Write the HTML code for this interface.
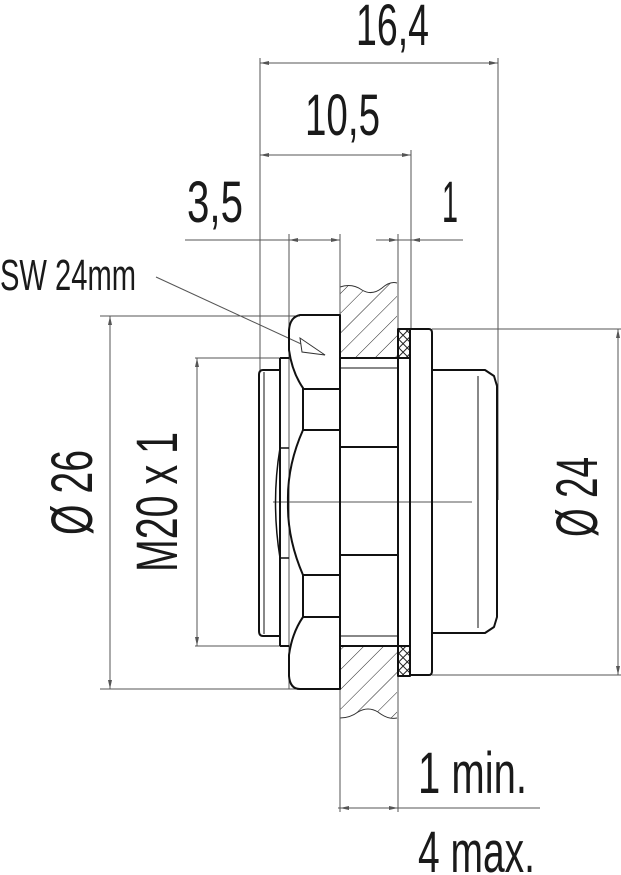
<!DOCTYPE html>
<html><head><meta charset="utf-8"><style>html,body{margin:0;padding:0;background:#fff}svg{display:block}</style></head>
<body>
<svg width="621" height="875" viewBox="0 0 621 875" xmlns="http://www.w3.org/2000/svg">
<defs>
<pattern id="h" width="14" height="14" patternUnits="userSpaceOnUse" patternTransform="rotate(45)">
<line x1="0" y1="0" x2="0" y2="14" stroke="#222" stroke-width="1"/>
</pattern>
<pattern id="x" width="6" height="6" patternUnits="userSpaceOnUse" patternTransform="rotate(45)">
<rect width="6" height="6" fill="none" stroke="#222" stroke-width="1"/>
</pattern>
</defs>
<g font-family="Liberation Sans, sans-serif" fill="#1a1a1a" font-size="58">
<text x="356" y="45" textLength="73" lengthAdjust="spacingAndGlyphs">16,4</text>
<text x="305" y="135" textLength="75" lengthAdjust="spacingAndGlyphs">10,5</text>
<text x="187" y="222" textLength="56" lengthAdjust="spacingAndGlyphs">3,5</text>
<text x="442" y="222" textLength="16" lengthAdjust="spacingAndGlyphs">1</text>
<text x="0" y="290" font-size="44" textLength="136" lengthAdjust="spacingAndGlyphs">SW 24mm</text>
<text x="418" y="793" textLength="109" lengthAdjust="spacingAndGlyphs">1 min.</text>
<text x="418" y="872" textLength="117" lengthAdjust="spacingAndGlyphs">4 max.</text>
<text transform="translate(92,535) rotate(-90)" textLength="85" lengthAdjust="spacingAndGlyphs">Ø 26</text>
<text transform="translate(177,572) rotate(-90)" textLength="140" lengthAdjust="spacingAndGlyphs">M20 x 1</text>
<text transform="translate(597,537) rotate(-90)" textLength="80" lengthAdjust="spacingAndGlyphs">Ø 24</text>
</g>
<!-- panel hatch -->
<path d="M340,287 Q352,283 362,290 Q372,296 382,288 Q390,281 397,283 L397,358 L340,358 Z" fill="url(#h)"/>
<path d="M340,646 L397,646 L397,718 Q388,720 378,712 Q368,706 358,712 Q350,718 340,718 Z" fill="url(#h)"/>
<path d="M340,287 Q352,283 362,290 Q372,296 382,288 Q390,281 397,283 M340,718 Q350,718 358,712 Q368,706 378,712 Q388,720 397,718" fill="none" stroke="#333" stroke-width="1"/>
<!-- thin dimension/extension lines -->
<g stroke="#555" stroke-width="1" fill="none">
<line x1="260" y1="58" x2="260" y2="370"/>
<line x1="498" y1="58" x2="498" y2="500"/>
<line x1="411" y1="150" x2="411" y2="329"/>
<line x1="289" y1="234" x2="289" y2="689"/>
<line x1="340" y1="234" x2="340" y2="812"/>
<line x1="398" y1="234" x2="398" y2="812"/>
<line x1="260" y1="63" x2="498" y2="63"/>
<line x1="260" y1="155" x2="411" y2="155"/>
<line x1="185" y1="240" x2="340" y2="240"/>
<line x1="376" y1="240" x2="463" y2="240"/>
<line x1="338" y1="808" x2="540" y2="808"/>
<line x1="100" y1="316" x2="300" y2="316"/>
<line x1="100" y1="689" x2="300" y2="689"/>
<line x1="110" y1="316" x2="110" y2="689"/>
<line x1="195" y1="358" x2="280" y2="358"/>
<line x1="195" y1="646" x2="280" y2="646"/>
<line x1="197" y1="358" x2="197" y2="646"/>
<line x1="432" y1="329" x2="622" y2="329"/>
<line x1="432" y1="675" x2="622" y2="675"/>
<line x1="618" y1="329" x2="618" y2="675"/>
<line x1="156" y1="277" x2="325" y2="355"/>
<line x1="273" y1="502" x2="472" y2="502"/>
</g>
<!-- arrowheads -->
<g fill="#555">
<path d="M260,63 l9,-2 v4z"/><path d="M498,63 l-9,-2 v4z"/>
<path d="M260,155 l9,-2 v4z"/><path d="M411,155 l-9,-2 v4z"/>
<path d="M289,240 l9,-2 v4z"/><path d="M340,240 l-9,-2 v4z"/>
<path d="M398,240 l-9,-2 v4z"/><path d="M411,240 l9,-2 v4z"/>
<path d="M340,808 l9,-2 v4z"/><path d="M398,808 l-9,-2 v4z"/>
<path d="M110,316 l-2,9 h4z"/><path d="M110,689 l-2,-9 h4z"/>
<path d="M197,358 l-2,9 h4z"/><path d="M197,646 l-2,-9 h4z"/>
<path d="M618,329 l-2,9 h4z"/><path d="M618,675 l-2,-9 h4z"/>
</g>
<path d="M325,355 L300,338 L302,352 Z" fill="#fff" stroke="#333" stroke-width="1"/>
<!-- part outline -->
<g stroke="#111" stroke-width="2" fill="none" stroke-linejoin="round">
<!-- thread -->
<path d="M280,370 L263,370 Q259,370 259,375 L259,631 Q259,636 263,636 L280,636"/>
<line x1="264" y1="372" x2="264" y2="634" stroke-width="1"/>
<path d="M280,358 L280,646 M280,358 L289,358 M280,646 L289,646"/>
<path d="M289,448 L280,448 Q271,502 280,558 L289,558" stroke-width="1.5"/>
<!-- nut -->
<path d="M340,315 L300,315 Q290,317 289,330 L289,350 Q292,372 303,388 L303,430 Q287,466 288,502 Q287,538 303,575 L303,617 Q292,633 289,655 L289,676 Q290,689 300,689 L340,689 Z"/>
<path d="M303,389 H340 M303,430 H340 M303,575 H340 M303,617 H340"/>
<!-- body -->
<path d="M340,358 H398 V646 H340"/>
<path d="M340,447 H398 M340,555 H398"/>
<path d="M340,368 H398 M340,636 H398" stroke-width="1"/>
<!-- seal -->
<rect x="398" y="329" width="12" height="29" fill="url(#x)"/>
<rect x="398" y="646" width="12" height="30" fill="url(#x)"/>
<path d="M398,329 V676 M410,329 V676 M398,329 H410 M398,676 H410"/>
<!-- flange -->
<path d="M410,329 H429 Q432,329 432,333 V671 Q432,675 429,675 H410"/>
<!-- front -->
<path d="M432,370 H485 L494,376 L497,386 V617 L494,627 L485,633 H432"/>
<line x1="478" y1="376" x2="478" y2="628" stroke-width="1"/>
</g>
</svg>
</body></html>
